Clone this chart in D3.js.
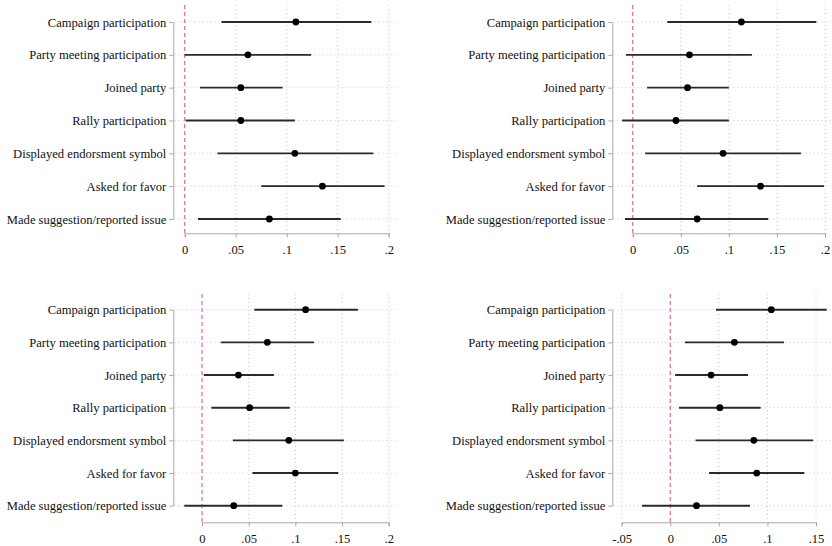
<!DOCTYPE html>
<html>
<head>
<meta charset="utf-8">
<script src="https://cdn.jsdelivr.net/npm/d3@7"></script>
<style>
  body { margin: 0; background: #fff; }
  svg { display: block; }
</style>
</head>
<body>
<svg id="chart" width="832" height="546"></svg>
<script>
var categories = ['Campaign participation', 'Party meeting participation', 'Joined party',
  'Rally participation', 'Displayed endorsment symbol', 'Asked for favor',
  'Made suggestion/reported issue']

// panel 1 (top left)
var p1Est = [0.109, 0.062, 0.055, 0.055, 0.108, 0.135, 0.083]
var p1Lo = [0.036, 0.000, 0.015, 0.001, 0.032, 0.075, 0.013]
var p1Hi = [0.183, 0.124, 0.096, 0.108, 0.185, 0.196, 0.153]
// panel 2 (top right)
var p2Est = [0.113, 0.059, 0.057, 0.045, 0.094, 0.133, 0.067]
var p2Lo = [0.036, -0.007, 0.015, -0.011, 0.013, 0.067, -0.008]
var p2Hi = [0.191, 0.124, 0.100, 0.100, 0.175, 0.199, 0.141]
// panel 3 (bottom left)
var p3Est = [0.111, 0.070, 0.039, 0.051, 0.093, 0.100, 0.034]
var p3Lo = [0.056, 0.020, 0.002, 0.010, 0.033, 0.054, -0.019]
var p3Hi = [0.167, 0.120, 0.077, 0.094, 0.152, 0.146, 0.086]
// panel 4 (bottom right)
var p4Est = [0.104, 0.066, 0.042, 0.051, 0.086, 0.089, 0.027]
var p4Lo = [0.047, 0.015, 0.005, 0.009, 0.026, 0.040, -0.029]
var p4Hi = [0.161, 0.117, 0.080, 0.093, 0.147, 0.138, 0.082]

var ticks12 = [0, 0.05, 0.1, 0.15, 0.2]
var ticks4 = [-0.05, 0, 0.05, 0.1, 0.15]
var tickLabels12 = ['0', '.05', '.1', '.15', '.2']
var tickLabels4 = ['-.05', '0', '.05', '.1', '.15']

var FONT = '"Liberation Serif", "Times New Roman", serif'

var panels = [
  { est: p1Est, lo: p1Lo, hi: p1Hi, ticks: ticks12, labels: tickLabels12, axisX: 173.3, right: 397, top: 5, bottom: 233.3, yr: [22, 219], xr: [184.7, 388.7] },
  { est: p2Est, lo: p2Lo, hi: p2Hi, ticks: ticks12, labels: tickLabels12, axisX: 612.3, right: 832, top: 5, bottom: 233.3, yr: [22, 219], xr: [632.7, 825] },
  { est: p3Est, lo: p3Lo, hi: p3Hi, ticks: ticks12, labels: tickLabels12, axisX: 173.3, right: 397, top: 294, bottom: 522.3, yr: [309.7, 505.7], xr: [202, 388.7] },
  { est: p4Est, lo: p4Lo, hi: p4Hi, ticks: ticks4, labels: tickLabels4, axisX: 612.3, right: 832, top: 294, bottom: 522.3, yr: [309.7, 505.7], xr: [621.7, 816] }
]

var svg = d3.select('#chart')

panels.forEach(function (p) {
  var x = d3.scaleLinear()
    .domain([p.ticks[0], p.ticks[p.ticks.length - 1]])
    .range(p.xr)
  var y = d3.scalePoint()
    .domain(categories)
    .range(p.yr)

  var g = svg.append('g')
  var rows = categories.map(function (c, i) {
    return { cat: c, est: p.est[i], lo: p.lo[i], hi: p.hi[i] }
  })

  // grid
  g.selectAll('.hgrid').data(categories).enter().append('line')
    .attr('x1', p.axisX + 1).attr('x2', p.right)
    .attr('y1', function (d) { return y(d) }).attr('y2', function (d) { return y(d) })
    .attr('stroke', '#c8c8c8').attr('stroke-width', 1).attr('stroke-dasharray', '1,3')
  g.selectAll('.vgrid').data(p.ticks.filter(function (t) { return t !== 0 })).enter().append('line')
    .attr('x1', function (d) { return x(d) }).attr('x2', function (d) { return x(d) })
    .attr('y1', p.top).attr('y2', p.bottom)
    .attr('stroke', '#c8c8c8').attr('stroke-width', 1).attr('stroke-dasharray', '1,3')

  // zero line
  g.append('line')
    .attr('x1', x(0)).attr('x2', x(0))
    .attr('y1', p.top).attr('y2', p.bottom)
    .attr('stroke', '#e3679e').attr('stroke-width', 1.2).attr('stroke-dasharray', '4,3')

  // axes
  var xAxis = g.append('g')
    .attr('transform', 'translate(0,' + p.bottom + ')')
    .call(d3.axisBottom(x).tickValues(p.ticks)
      .tickFormat(function (d, i) { return p.labels[i] })
      .tickSize(4).tickSizeOuter(4))
  var yAxis = g.append('g')
    .attr('transform', 'translate(' + p.axisX + ',0)')
    .call(d3.axisLeft(y).tickSize(4).tickSizeOuter(0))
  ;[xAxis, yAxis].forEach(function (a) {
    a.select('.domain').attr('stroke', '#a8a8a8')
    a.selectAll('.tick line').attr('stroke', '#a8a8a8')
    a.selectAll('text').attr('fill', '#111')
      .style('font-family', FONT).style('font-size', '12.6px')
  })
  xAxis.selectAll('text').attr('dy', '1.1em')
  yAxis.selectAll('text').attr('x', -7)

  // intervals and estimates
  g.selectAll('.ci').data(rows).enter().append('line')
    .attr('x1', function (d) { return x(d.lo) }).attr('x2', function (d) { return x(d.hi) })
    .attr('y1', function (d) { return y(d.cat) }).attr('y2', function (d) { return y(d.cat) })
    .attr('stroke', '#2a2a2a').attr('stroke-width', 1.9)
  g.selectAll('.pt').data(rows).enter().append('circle')
    .attr('cx', function (d) { return x(d.est) }).attr('cy', function (d) { return y(d.cat) })
    .attr('r', 3.4).attr('fill', '#000')
})
</script>
</body>
</html>
